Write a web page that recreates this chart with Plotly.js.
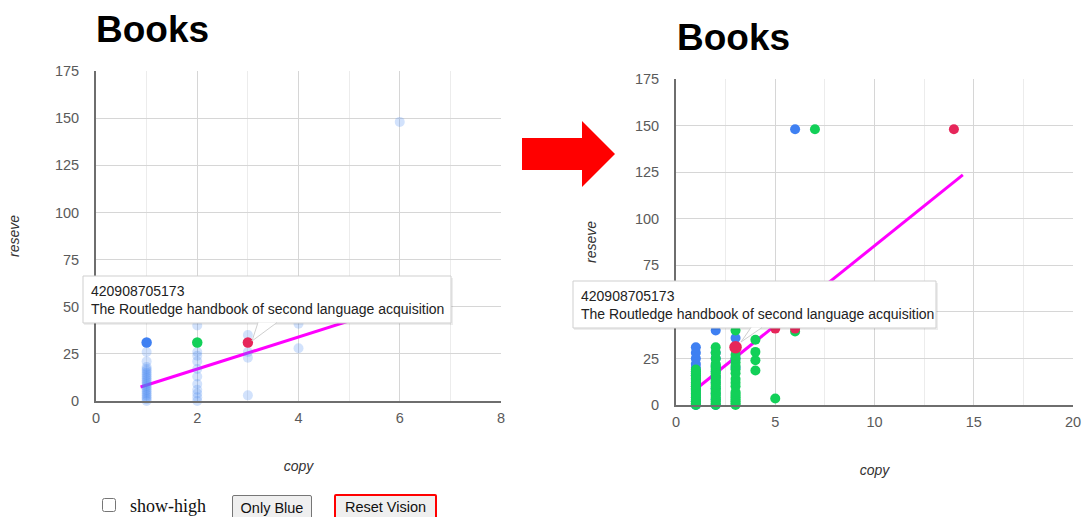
<!DOCTYPE html>
<html>
<head>
<meta charset="utf-8">
<script src="https://cdn.plot.ly/plotly-3.0.1.min.js"></script>
<style>
  html, body { margin: 0; padding: 0; background: #fff; }
  #wrap { position: relative; width: 1086px; height: 517px; overflow: hidden; }
  #chart { position: absolute; left: 0; top: 0; width: 1086px; height: 517px; }
  .ctl { position: absolute; }
  #cb { left: 102px; top: 498px; width: 14px; height: 14px; margin: 0; }
  #lbl { left: 130px; top: 495px; font-family: "Liberation Serif", "DejaVu Serif", serif; font-size: 18px; color: #111; line-height: 22px; white-space: nowrap; }
  .btn { font-family: Arial, "Liberation Sans", sans-serif; font-size: 14.5px; color: #111; background: #efefef;
         border: 1px solid #767676; border-radius: 2px; padding: 0; height: 26px; line-height: 22px;
         white-space: nowrap; text-align: center; box-sizing: border-box; }
  #b1 { left: 232px; top: 495px; width: 80px; }
  #b2 { left: 334px; top: 494px; width: 103px; border: 2px solid #ff0000; }
</style>
</head>
<body>
<div id="wrap">
  <div id="chart"></div>
  <input type="checkbox" id="cb" class="ctl">
  <span id="lbl" class="ctl">show-high</span>
  <button id="b1" class="ctl btn">Only Blue</button>
  <button id="b2" class="ctl btn">Reset Vision</button>
</div>
<script>
// ---------------- data ----------------
// Left chart ("before"): faded blue points
const leftFadedX = [1,1,1,1,1,1,1,1,1,1,1,1,1,1,1,1,1,1,1,1,1,
                    2,2,2,2,2,2,2,2,2,2,2,
                    3,3,3,3,
                    4,4,
                    6];
const leftFadedY = [0,1,2,3,4,5,6,7,8,9,10,11,12,13,14,15,16,17,18,21,26,
                    0,2,4,6,9,13,17,21,24,26,40,
                    3,23,26,35,
                    28,41,
                    148];
// Left chart highlighted points (blue, green, red)
const leftHiX = [1, 2, 3];
const leftHiY = [31, 31, 31];
const leftTrendX = [0.88, 6];
const leftTrendY = [7.4, 51];

// Right chart ("after")
const blueX = [1,1,1,1,1,1,1,1,1,1,1,1,1,1,1,
               2,2,2,2,2,2,2,2,2,2,2,
               3,3,3,3,
               6];
const blueY = [0,2,4,6,8,10,12,14,16,18,20,22,25,28,31,
               0,3,6,9,12,15,18,21,25,28,40,
               20,25,31,36,
               148];
const greenX = [1,1,1,1,1,1,1,1,1,1,1,1,1,1,1,1,1,1,1,1,
                2,2,2,2,2,2,2,2,2,2,2,2,2,2,2,2,2,2,2,2,2,2,2,2,2,2,
                3,3,3,3,3,3,3,3,3,3,3,3,3,3,3,3,3,3,
                4,4,4,4,
                5, 6, 7];
const greenY = [0,1,2,3,4,5,6,7,8,9,10,11,12,13,14,15,16,17,18,19,
                0,1,2,3,4,5,6,7,8,9,10,11,12,13,14,15,16,17,18,19,20,21,22,25,28,31,
                0,1,2,3,4,5,6,7,10,12,14,17,19,21,23,25,27,40,
                18.5,24,28.5,35,
                3.5, 39.5, 148];
const redX = [5, 6, 14];
const redY = [41, 41, 148];
const redHiX = [3];
const redHiY = [31];
const rightTrendX = [1.15, 14.45];
const rightTrendY = [9.8, 123.5];

// tick labels (the right chart's "50" label is hidden behind the tooltip in the picture)
const yTickVals = [0, 25, 50, 75, 100, 125, 150, 175];
const yTickTextLeft = ["0", "25", "50", "75", "100", "125", "150", "175"];
const yTickTextRight = ["0", "25", "", "75", "100", "125", "150", "175"];

const titleText = "Books";
const xTitle = "copy";
const yTitle = "reseve";
const tipLine1 = "420908705173";
const tipLine2 = "The Routledge handbook of second language acquisition";

// ---------------- styles ----------------
const BLUE = "#3f80f2", GREEN = "#12d058", RED = "#e6265a", MAG = "#ff00ff";
const W = 1086, H = 517;
const px = x => x / W;
const py = y => 1 - y / H;

const common = {type: "scatter", cliponaxis: false, hoverinfo: "skip", showlegend: false};
const traces = [
  Object.assign({}, common, {x: leftTrendX, y: leftTrendY, mode: "lines", line: {color: MAG, width: 3}, xaxis: "x", yaxis: "y"}),
  Object.assign({}, common, {x: leftFadedX, y: leftFadedY, mode: "markers", marker: {color: "rgba(66,133,244,0.24)", size: 10}, xaxis: "x", yaxis: "y"}),
  Object.assign({}, common, {x: leftHiX, y: leftHiY, mode: "markers", marker: {color: [BLUE, GREEN, RED], size: 10.5}, xaxis: "x", yaxis: "y"}),

  Object.assign({}, common, {x: rightTrendX, y: rightTrendY, mode: "lines", line: {color: MAG, width: 3}, xaxis: "x2", yaxis: "y2"}),
  Object.assign({}, common, {x: blueX, y: blueY, mode: "markers", marker: {color: BLUE, size: 10}, xaxis: "x2", yaxis: "y2"}),
  Object.assign({}, common, {x: greenX, y: greenY, mode: "markers", marker: {color: GREEN, size: 10}, xaxis: "x2", yaxis: "y2"}),
  Object.assign({}, common, {x: redX, y: redY, mode: "markers", marker: {color: RED, size: 10}, xaxis: "x2", yaxis: "y2"}),
  Object.assign({}, common, {x: redHiX, y: redHiY, mode: "markers", marker: {color: RED, size: 12.5}, xaxis: "x2", yaxis: "y2"})
];

const tickFont = {family: "Arial, Liberation Sans, sans-serif", size: 14.5, color: "#5a5a5a"};
const axTitleFont = {family: "Arial, Liberation Sans, sans-serif", size: 14, color: "#333", style: "italic"};
const baseAxis = {
  showgrid: true, gridcolor: "#d6d6d6", gridwidth: 1, zeroline: false,
  showline: true, linecolor: "#6e6e6e", linewidth: 2,
  ticks: "outside", tickcolor: "rgba(0,0,0,0)", tickfont: tickFont, fixedrange: true
};

const layout = {
  width: W, height: H,
  margin: {l: 0, r: 0, t: 0, b: 0},
  paper_bgcolor: "#ffffff", plot_bgcolor: "rgba(0,0,0,0)",
  showlegend: false,
  xaxis: Object.assign({}, baseAxis, {domain: [px(96), px(501)], range: [0, 8], tick0: 0, dtick: 2, ticklen: 3,
    minor: {dtick: 1, showgrid: true, gridcolor: "#ececec", gridwidth: 1},
    anchor: "y", title: {text: xTitle, font: axTitleFont, standoff: 36}}),
  yaxis: Object.assign({}, baseAxis, {domain: [py(401), py(71)], range: [0, 175], tickmode: "array",
    tickvals: yTickVals, ticktext: yTickTextLeft, ticklen: 12,
    anchor: "x", title: {text: yTitle, font: axTitleFont, standoff: 32}}),
  xaxis2: Object.assign({}, baseAxis, {domain: [px(676), px(1073)], range: [0, 20], tick0: 0, dtick: 5, ticklen: 3,
    minor: {dtick: 2.5, showgrid: true, gridcolor: "#ececec", gridwidth: 1},
    anchor: "y2", title: {text: xTitle, font: axTitleFont, standoff: 36}}),
  yaxis2: Object.assign({}, baseAxis, {domain: [py(405), py(79)], range: [0, 175], tickmode: "array",
    tickvals: yTickVals, ticktext: yTickTextRight, ticklen: 12,
    anchor: "x2", title: {text: yTitle, font: axTitleFont, standoff: 35}}),
  shapes: [
    // big red arrow between the two views
    {type: "path", xref: "paper", yref: "paper", layer: "above",
     path: `M ${px(522)} ${py(138)} L ${px(582)} ${py(138)} L ${px(582)} ${py(121)} L ${px(615)} ${py(154)} L ${px(582)} ${py(187)} L ${px(582)} ${py(170)} L ${px(522)} ${py(170)} Z`,
     fillcolor: "#ff0000", line: {width: 0}},
    // left tooltip: shadow, box, tail
    {type: "rect", xref: "paper", yref: "paper", layer: "above", x0: px(84), x1: px(453), y0: py(278), y1: py(325),
     fillcolor: "rgba(0,0,0,0.07)", line: {width: 0}},
    {type: "rect", xref: "paper", yref: "paper", layer: "above", x0: px(83), x1: px(451), y0: py(276), y1: py(323),
     fillcolor: "#ffffff", line: {color: "#cfcfcf", width: 1}},
    {type: "path", xref: "paper", yref: "paper", layer: "above",
     path: `M ${px(258)} ${py(322.5)} L ${px(252)} ${py(341)} L ${px(277)} ${py(322.5)}`,
     fillcolor: "#ffffff", line: {color: "#cfcfcf", width: 1}},
    // right tooltip: shadow, box, tail
    {type: "rect", xref: "paper", yref: "paper", layer: "above", x0: px(574), x1: px(938), y0: py(283), y1: py(330),
     fillcolor: "rgba(0,0,0,0.07)", line: {width: 0}},
    {type: "rect", xref: "paper", yref: "paper", layer: "above", x0: px(573), x1: px(936), y0: py(281), y1: py(328),
     fillcolor: "#ffffff", line: {color: "#cfcfcf", width: 1}},
    {type: "path", xref: "paper", yref: "paper", layer: "above",
     path: `M ${px(751)} ${py(327.5)} L ${px(741)} ${py(342)} L ${px(762)} ${py(327.5)}`,
     fillcolor: "#ffffff", line: {color: "#cfcfcf", width: 1}}
  ],
  annotations: [
    {text: titleText, xref: "paper", yref: "paper", x: px(94), y: py(29), xanchor: "left", yanchor: "middle",
     showarrow: false, font: {family: "Arial, Liberation Sans, sans-serif", size: 37, color: "#000", weight: "bold"}},
    {text: titleText, xref: "paper", yref: "paper", x: px(675), y: py(38), xanchor: "left", yanchor: "middle",
     showarrow: false, font: {family: "Arial, Liberation Sans, sans-serif", size: 37, color: "#000", weight: "bold"}},
    {text: tipLine1 + "<br>" + tipLine2, xref: "paper", yref: "paper", x: px(89), y: py(300), xanchor: "left", yanchor: "middle",
     align: "left", showarrow: false, font: {family: "Arial, Liberation Sans, sans-serif", size: 14, color: "#222"}},
    {text: tipLine1 + "<br>" + tipLine2, xref: "paper", yref: "paper", x: px(579), y: py(304.5), xanchor: "left", yanchor: "middle",
     align: "left", showarrow: false, font: {family: "Arial, Liberation Sans, sans-serif", size: 14, color: "#222"}}
  ]
};

Plotly.newPlot("chart", traces, layout, {displayModeBar: false, staticPlot: true});
</script>
</body>
</html>
